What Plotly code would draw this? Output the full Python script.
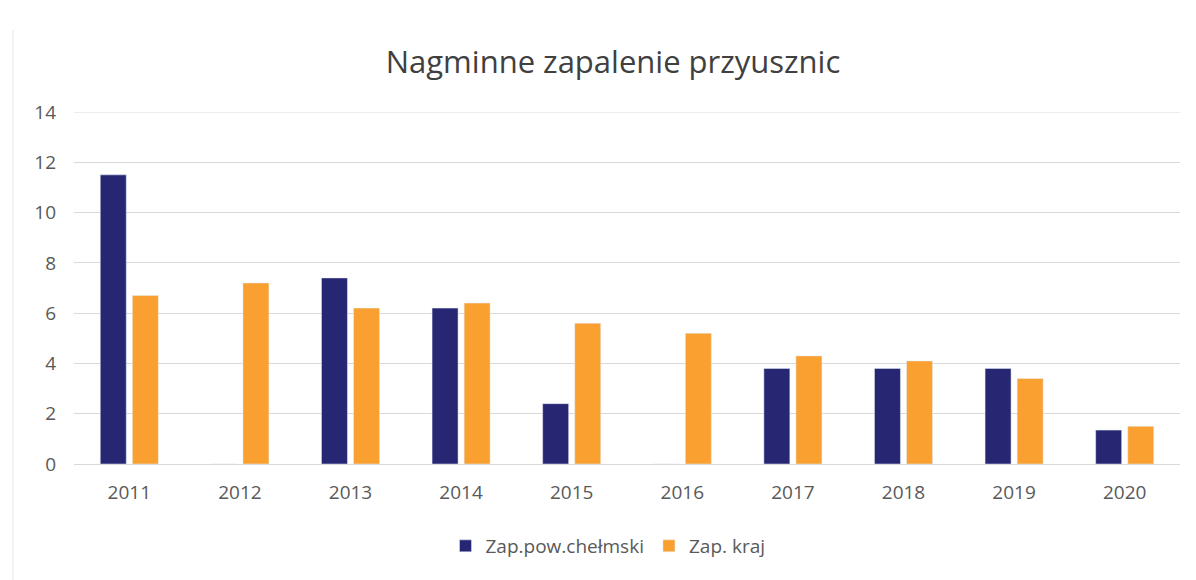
import plotly.graph_objects as go

years = ["2011", "2012", "2013", "2014", "2015", "2016", "2017", "2018", "2019", "2020"]
powiat = [11.5, 0, 7.4, 6.2, 2.4, 0, 3.8, 3.8, 3.8, 1.35]
kraj = [6.7, 7.2, 6.2, 6.4, 5.6, 5.2, 4.3, 4.1, 3.4, 1.5]
y_ticks = [0, 2, 4, 6, 8, 10, 12, 14]

L, R, T, B = 66, 24, 104, 124
PW = 1196 - L - R
PH = 580 - T - B

fig = go.Figure()
fig.add_trace(go.Bar(x=years, y=powiat, name="Zap.pow.chełmski", marker_color="#262673"))
fig.add_trace(go.Bar(x=years, y=kraj, name="Zap. kraj", marker_color="#F9A030"))

fig.update_layout(
    width=1196, height=580,
    margin=dict(l=L, r=R, t=T, b=B),
    paper_bgcolor="white", plot_bgcolor="white",
    font=dict(family="Open Sans", color="#595959", size=19),
    title=dict(text="Nagminne zapalenie przyusznic", x=605 / 1196, xanchor="center",
               y=1 - 54 / 580, yanchor="middle",
               font=dict(family="Open Sans", size=31, color="#404040")),
    barmode="group", bargap=0.42, bargroupgap=0.19,
    showlegend=True,
    legend=dict(orientation="h", x=0.5 - 19 / PW, xanchor="center", y=(PH - (538 - T)) / PH,
                yanchor="middle", font=dict(size=19, color="#595959")),
    xaxis=dict(showgrid=False, showline=True, linecolor="#d9d9d9", ticks="",
               ticklabelstandoff=11),
    yaxis=dict(range=[0, y_ticks[-1]], tickvals=y_ticks, showgrid=True, gridcolor="#d9d9d9",
               zeroline=False, showline=False, ticklabelstandoff=17),
)
# top gridline at the last tick (Plotly omits the grid line on the plot edge)
fig.add_shape(type="line", xref="paper", yref="y", x0=0, x1=1, y0=y_ticks[-1], y1=y_ticks[-1],
              line=dict(color="#d9d9d9", width=1), layer="below")
fig.add_shape(type="line", xref="paper", yref="paper", x0=(5 - L) / PW, x1=(5 - L) / PW,
              y0=-(B - 8) / PH, y1=1 + (T - 22) / PH, line=dict(color="#e6e6e6", width=1))
fig.write_html("out.html")
